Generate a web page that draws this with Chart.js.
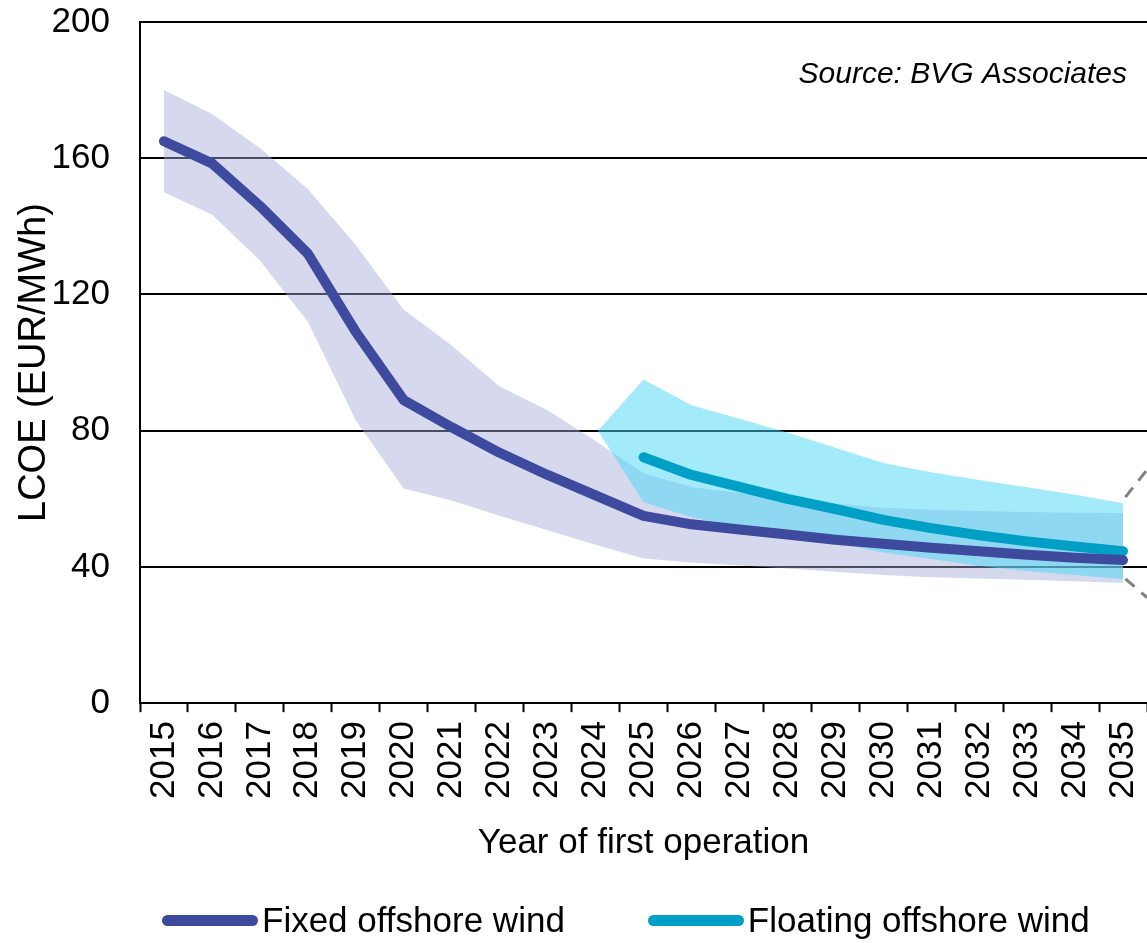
<!DOCTYPE html>
<html>
<head>
<meta charset="utf-8">
<script src="https://cdn.jsdelivr.net/npm/chart.js@4.4.1/dist/chart.umd.min.js"></script>
<style>
  body { margin: 0; background: #fff; }
  #wrap { position: relative; width: 1147px; height: 943px; }
  #legend {
    position: absolute; left: 162px; top: 900px;
    display: flex; align-items: center; white-space: nowrap;
    font-family: "Liberation Sans", Arial, sans-serif; font-size: 35px; line-height: 40px; color: #000;
  }
  .item { display: flex; align-items: center; margin-right: 83px; }
  .bar { display: inline-block; width: 96px; height: 11px; border-radius: 6px; margin-right: 4px; }
</style>
</head>
<body>
<div id="wrap">
  <canvas id="myChart" width="1147" height="943"></canvas>
  <div id="legend"></div>
</div>
<script>
const years = [2015, 2016, 2017, 2018, 2019, 2020, 2021, 2022, 2023, 2024, 2025,
               2026, 2027, 2028, 2029, 2030, 2031, 2032, 2033, 2034, 2035];
const fixedLcoe = [165, 158.5, 146, 132, 109, 89, 81, 73.5, 67, 61, 55,
                   52.5, 51, 49.5, 48, 46.8, 45.6, 44.6, 43.6, 42.7, 42];
const fixedHigh = [180, 173, 163, 151, 134.5, 115.5, 105, 93, 86, 77, 67.5,
                   63.5, 61.7, 60, 58.6, 57.4, 56.8, 56.4, 56.1, 55.9, 55.8];
const fixedLow = [150, 143.5, 130, 112, 83, 63, 59.5, 55, 50.8, 46.5, 42.5,
                  41.3, 40.4, 39.5, 38.6, 37.6, 37, 36.6, 36.2, 35.8, 35.3];

const floatYears = [2025, 2026, 2027, 2028, 2029, 2030, 2031, 2032, 2033, 2034, 2035];
const floatLcoe = [72.2, 67, 63.5, 60, 57, 53.8, 51.4, 49.3, 47.5, 46, 44.6];
const floatBandYears = [2024.05, 2025, 2026, 2027, 2028, 2029, 2030, 2031, 2032, 2033, 2034, 2035];
const floatHigh = [80, 95, 87.5, 83.5, 79.5, 75, 70.5, 67.8, 65.5, 63.4, 61.2, 58.7];
const floatLow = [80, 59, 54.6, 51.7, 49.3, 47, 44.2, 42.3, 40.3, 38.8, 37.6, 36.4];

// dashed zoom lines leaving the right edge
const calloutX = [2035.05, 2035.5];
const calloutUpper = [60.5, 68.5];
const calloutLower = [36.5, 31];

const yTicks = [0, 40, 80, 120, 160, 200];
const seriesNames = ['Fixed offshore wind', 'Floating offshore wind'];
const fixedColor = '#3d4a9e';
const floatColor = '#00a0c6';

const pts = (xs, ys) => xs.map((x, i) => ({x: x, y: ys[i]}));

const lineStyle = {pointRadius: 0, borderWidth: 10, borderCapStyle: 'round', borderJoinStyle: 'round', fill: false};
const bandStyle = {pointRadius: 0, borderWidth: 0};

Chart.defaults.font.family = '"Liberation Sans", Arial, sans-serif';
Chart.defaults.color = '#000';

const sourceText = {
  id: 'sourceText',
  afterDraw(chart) {
    const c = chart.ctx;
    c.save();
    c.font = 'italic 30px "Liberation Sans", Arial, sans-serif';
    c.fillStyle = '#000';
    c.textAlign = 'right';
    c.textBaseline = 'middle';
    c.fillText('Source: BVG Associates', chart.chartArea.right - 20, chart.chartArea.top + 53);
    c.restore();
  }
};

const ctx = document.getElementById('myChart');
new Chart(ctx, {
  type: 'line',
  data: {
    datasets: [
      {label: seriesNames[0], data: pts(years, fixedLcoe), borderColor: fixedColor, ...lineStyle},
      {label: seriesNames[1], data: pts(floatYears, floatLcoe), borderColor: floatColor, ...lineStyle},
      {label: 'float high', data: pts(floatBandYears, floatHigh), fill: '+1', backgroundColor: 'rgba(71,215,245,0.5)', ...bandStyle},
      {label: 'float low', data: pts(floatBandYears, floatLow), fill: false, ...bandStyle},
      {label: 'fixed high', data: pts(years, fixedHigh), fill: '+1', backgroundColor: 'rgba(164,171,217,0.45)', ...bandStyle},
      {label: 'fixed low', data: pts(years, fixedLow), fill: false, ...bandStyle},
      {label: 'c1', data: pts(calloutX, calloutUpper), borderColor: '#808080', borderWidth: 3, borderDash: [12, 9], pointRadius: 0, fill: false},
      {label: 'c2', data: pts(calloutX, calloutLower), borderColor: '#808080', borderWidth: 3, borderDash: [12, 9], pointRadius: 0, fill: false}
    ]
  },
  options: {
    responsive: false,
    animation: false,
    layout: {padding: {top: 22, left: 12, right: 0, bottom: 79}},
    plugins: {
      legend: {display: false},
      tooltip: {enabled: false}
    },
    scales: {
      x: {
        type: 'linear',
        min: years[0] - 0.5,
        max: years[years.length - 1] + 0.5,
        afterBuildTicks: axis => {
          const t = [];
          years.forEach(y => { t.push({value: y - 0.5}); t.push({value: y}); });
          t.push({value: years[years.length - 1] + 0.5});
          axis.ticks = t;
        },
        afterFit: axis => { axis.paddingLeft = 0; axis.paddingRight = 0; },
        ticks: {
          autoSkip: false,
          minRotation: 90,
          maxRotation: 90,
          padding: 9,
          font: {size: 35},
          callback: v => Number.isInteger(v) ? String(v) : ''
        },
        grid: {
          drawOnChartArea: false,
          drawTicks: true,
          tickLength: 9,
          tickWidth: 2,
          tickColor: c => (c.tick && Number.isInteger(c.tick.value)) ? 'rgba(0,0,0,0)' : '#000'
        },
        border: {display: true, color: '#000', width: 2},
        title: {display: true, text: 'Year of first operation', font: {size: 35}, padding: {top: 14, bottom: 0}}
      },
      y: {
        min: 0,
        max: 200,
        afterBuildTicks: axis => { axis.ticks = yTicks.map(v => ({value: v})); },
        afterFit: axis => { axis.width = 128; axis.paddingTop = 0; axis.paddingBottom = 0; },
        ticks: {font: {size: 35}, padding: 30},
        grid: {color: '#000', lineWidth: 2, drawTicks: false},
        border: {display: true, color: '#000', width: 2},
        title: {display: true, text: 'LCOE (EUR/MWh)', font: {size: 38}, padding: {top: 0, bottom: 0}}
      }
    }
  },
  plugins: [sourceText]
});

// legend as html under the plot
const legend = document.getElementById('legend');
[[seriesNames[0], fixedColor], [seriesNames[1], floatColor]].forEach(([name, col]) => {
  const item = document.createElement('div');
  item.className = 'item';
  item.innerHTML = '<span class="bar" style="background:' + col + '"></span><span>' + name + '</span>';
  legend.appendChild(item);
});
</script>
</body>
</html>
